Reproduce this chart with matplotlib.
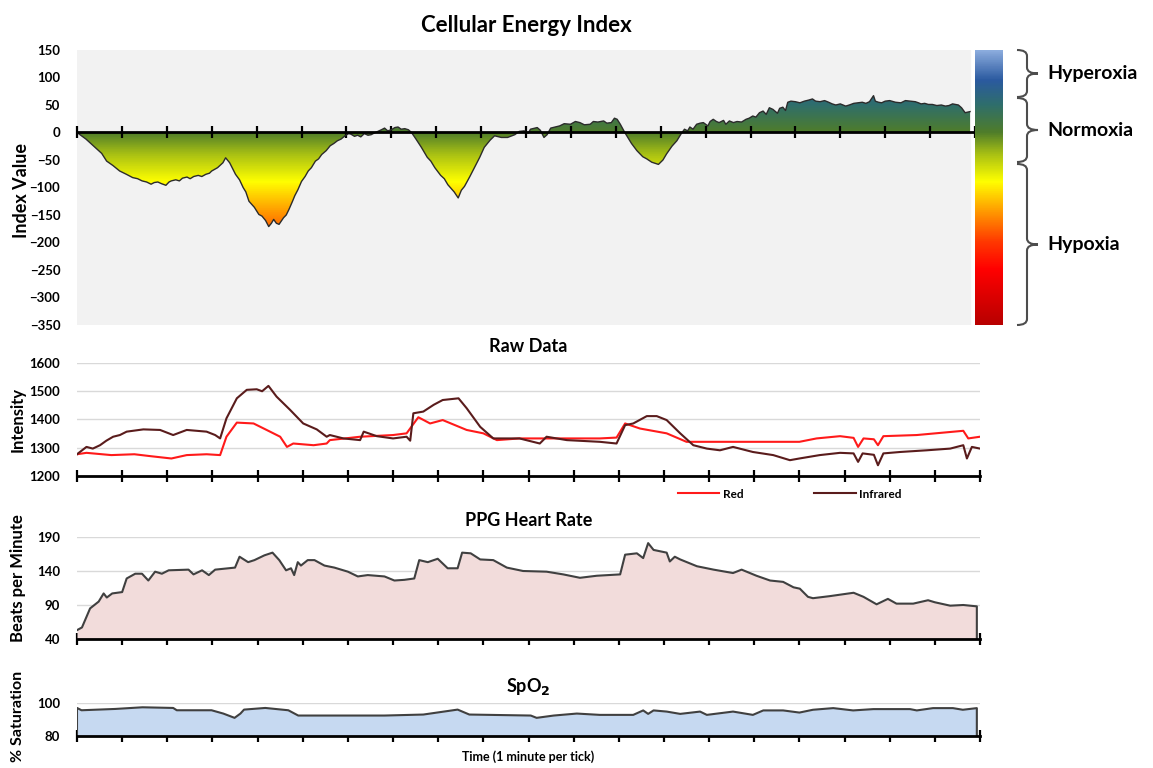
import numpy as np
import matplotlib
matplotlib.use("Agg")
import matplotlib.pyplot as plt
from matplotlib.colors import LinearSegmentedColormap, Normalize
from matplotlib.path import Path
from matplotlib.patches import PathPatch

plt.rcParams['font.family'] = ['Lato', 'DejaVu Sans']
plt.rcParams['font.weight'] = 'bold'

W, H = 1153, 768

# --- Cellular Energy Index (minutes, index value) ---
cei_t = [0.0, 0.2, 0.4, 0.55, 0.66, 0.8, 0.95, 1.1, 1.24, 1.35,
         1.45, 1.55, 1.65, 1.72, 1.8, 1.88, 1.98, 2.05, 2.1, 2.2,
         2.28, 2.35, 2.45, 2.52, 2.6, 2.7, 2.78, 2.87, 2.95, 3.0,
         3.13, 3.25, 3.31, 3.4, 3.53, 3.62, 3.7, 3.76, 3.83, 3.95,
         4.05, 4.12, 4.2, 4.27, 4.33, 4.38, 4.44, 4.5, 4.6, 4.66,
         4.72, 4.8, 4.85, 4.92, 5.0, 5.08, 5.15, 5.22, 5.31, 5.38,
         5.45, 5.55, 5.64, 5.72, 5.8, 5.88, 5.97, 6.05, 6.1, 6.18,
         6.25, 6.32, 6.4, 6.48, 6.55, 6.62, 6.7, 6.78, 6.85, 6.92,
         7.0, 7.08, 7.15, 7.22, 7.3, 7.38, 7.45, 7.55, 7.67, 7.8,
         7.88, 7.97, 8.1, 8.18, 8.26, 8.4, 8.49, 8.56, 8.63, 8.75,
         8.85, 8.97, 9.07, 9.2, 9.3, 9.45, 9.59, 9.75, 9.85, 9.96,
         10.05, 10.1, 10.25, 10.32, 10.4, 10.47, 10.55, 10.65, 10.75, 10.85,
         10.99, 11.1, 11.2, 11.3, 11.43, 11.5, 11.6, 11.73, 11.8, 11.9,
         11.97, 12.03, 12.1, 12.2, 12.35, 12.47, 12.6, 12.69, 12.8, 12.95,
         13.05, 13.13, 13.25, 13.36, 13.45, 13.53, 13.6, 13.65, 13.72, 13.8,
         13.88, 13.95, 14.05, 14.1, 14.17, 14.24, 14.3, 14.4, 14.45, 14.53,
         14.62, 14.7, 14.8, 14.9, 14.97, 15.05, 15.12, 15.2, 15.28, 15.35,
         15.42, 15.5, 15.6, 15.65, 15.72, 15.78, 15.83, 15.9, 16.0, 16.1,
         16.2, 16.3, 16.38, 16.45, 16.55, 16.65, 16.74, 16.82, 16.9, 17.0,
         17.12, 17.2, 17.3, 17.4, 17.49, 17.57, 17.65, 17.74, 17.78, 17.85,
         17.92, 18.0, 18.1, 18.23, 18.35, 18.45, 18.55, 18.67, 18.74, 18.8,
         18.88, 18.96, 19.05, 19.15, 19.25, 19.34, 19.42, 19.5, 19.56, 19.63,
         19.7, 19.78, 19.89]
cei_v = [0, -12, -27, -38, -52, -60, -70, -76, -82, -84,
         -88, -90, -94, -91, -90, -93, -96, -90, -88, -86,
         -88, -83, -81, -84, -80, -78, -80, -76, -74, -70,
         -64, -55, -46, -55, -76, -86, -100, -108, -125, -136,
         -149, -152, -160, -171, -165, -158, -165, -167, -155, -150,
         -140, -125, -115, -104, -89, -80, -70, -64, -52, -48,
         -40, -33, -24, -20, -15, -12, -6, -2, -3, -7,
         -5, -8, -2, -5, -4, -1, 2, 5, 8, 3,
         5, 9, 10, 6, 7, 5, 0, -12, -27, -45,
         -52, -64, -78, -84, -95, -108, -119, -105, -98, -80,
         -64, -45, -27, -14, -6, -9, -9, -4, 2, 3,
         -1, 6, 9, 4, -9, -4, 8, 10, 12, 16,
         15, 20, 18, 14, 15, 20, 19, 21, 17, 18,
         26, 24, 15, 0, -20, -33, -44, -48, -54, -58,
         -50, -39, -25, -15, -3, 6, 3, 10, 6, 15,
         17, 18, 12, 20, 24, 20, 18, 22, 15, 21,
         18, 20, 19, 24, 26, 30, 28, 36, 39, 33,
         45, 42, 35, 44, 46, 40, 55, 57, 56, 54,
         57, 59, 61, 57, 56, 58, 55, 52, 50, 52,
         48, 50, 53, 54, 55, 53, 56, 67, 57, 55,
         54, 57, 58, 55, 54, 58, 57, 56, 54, 52,
         53, 51, 51, 49, 50, 48, 49, 52, 51, 50,
         45, 36, 38]

zone_names = ['Hyperoxia', 'Normoxia', 'Hypoxia']

# --- Raw data ---
ir_t = [0, 0.21, 0.35, 0.51, 0.65, 0.8, 0.95, 1.1, 1.47, 1.84, 2.13, 2.43, 2.87, 3.06, 3.17, 3.31,
        3.54, 3.76, 3.98, 4.1, 4.24, 4.42, 4.72, 5.01, 5.31, 5.53, 5.6, 5.9, 6.27, 6.35, 6.64, 7.0,
        7.3, 7.38, 7.45, 7.67, 7.9, 8.1, 8.45, 8.63, 8.93, 9.22, 9.5, 9.8, 10.25, 10.4, 10.85,
        11.58, 11.95, 12.14, 12.32, 12.62, 12.84, 13.06, 13.36, 13.65, 13.95, 14.24, 14.53, 14.97,
        15.42, 15.79, 16.0, 16.45, 16.9, 17.2, 17.3, 17.4, 17.65, 17.74, 17.86, 18.23, 18.82,
        19.34, 19.63, 19.71, 19.82, 20]
ir_v = [1277, 1303, 1297, 1309, 1325, 1339, 1345, 1357, 1365, 1363, 1345, 1363, 1357, 1345, 1333, 1404,
        1475, 1505, 1507, 1500, 1519, 1481, 1434, 1386, 1365, 1339, 1345, 1333, 1327, 1357, 1341, 1333,
        1339, 1325, 1422, 1428, 1452, 1469, 1475, 1440, 1374, 1333, 1333, 1333, 1315, 1339, 1327,
        1321, 1315, 1380, 1386, 1412, 1412, 1398, 1351, 1309, 1297, 1291, 1303, 1285,
        1274, 1256, 1262, 1274, 1282, 1280, 1250, 1280, 1275, 1238, 1280, 1285, 1291,
        1297, 1309, 1262, 1303, 1297]

red_t = [0, 0.21, 0.76, 1.27, 1.64, 2.09, 2.43, 2.87, 3.17, 3.31, 3.54, 3.91, 4.2, 4.5, 4.65, 4.79,
         5.24, 5.53, 5.6, 6.27, 7.0, 7.3, 7.56, 7.82, 8.1, 8.63, 9.0, 9.3, 9.8, 10.5, 11.58, 11.95,
         12.14, 12.47, 13.06, 13.5, 14.17, 15.27, 16.0, 16.38, 16.9, 17.2, 17.3, 17.42, 17.65, 17.74,
         17.86, 18.6, 19.63, 19.74, 20]
red_v = [1277, 1282, 1274, 1277, 1270, 1262, 1274, 1277, 1274, 1339, 1389, 1386, 1363, 1339, 1303, 1315,
         1309, 1315, 1327, 1339, 1345, 1351, 1408, 1386, 1398, 1363, 1351, 1327, 1333, 1333, 1333, 1336,
         1386, 1368, 1351, 1321, 1321, 1321, 1321, 1333, 1341, 1335, 1303, 1333, 1330, 1309,
         1341, 1345, 1360, 1333, 1339]

# --- PPG heart rate ---
hr_t = [0, 0.11, 0.29, 0.48, 0.59, 0.66, 0.78, 1.0, 1.1, 1.29, 1.44, 1.58, 1.73, 1.88, 2.03, 2.47,
        2.58, 2.77, 2.92, 3.06, 3.5, 3.6, 3.79, 3.93, 4.15, 4.33, 4.48, 4.63, 4.74, 4.81, 4.89, 4.96,
        5.11, 5.26, 5.48, 5.7, 6.0, 6.22, 6.44, 6.81, 7.03, 7.25, 7.47, 7.58, 7.77, 7.99, 8.21, 8.43,
        8.53, 8.72, 8.93, 9.22, 9.52, 9.88, 10.4, 10.77, 11.14, 11.51, 12.03, 12.14, 12.4, 12.54,
        12.65, 12.77, 13.06, 13.13, 13.24, 13.36, 13.73, 14.1, 14.53, 14.72, 15.05, 15.35, 15.64,
        15.87, 16.01, 16.19, 16.3, 16.67, 17.2, 17.42, 17.71, 17.96, 18.15, 18.52, 18.85, 19.0,
        19.34, 19.63, 19.93]
hr_v = [53, 57, 85, 95, 107, 101, 107, 109, 129, 136, 136, 126, 139, 136, 141, 142,
        135, 141, 134, 142, 145, 161, 153, 156, 163, 167, 156, 141, 144, 134, 153, 148,
        156, 156, 148, 145, 139, 132, 134, 132, 126, 127, 129, 156, 153, 158, 144, 144,
        167, 166, 157, 156, 145, 140, 139, 135, 130, 133, 135, 164, 166, 159,
        181, 171, 167, 154, 161, 157, 147, 142, 137, 142, 133, 126, 124,
        116, 114, 102, 100, 103, 108, 102, 91, 99, 92, 92, 97, 94,
        89, 90, 88]

# --- SpO2 ---
spo2_t = [0, 0.1, 0.85, 1.45, 2.13, 2.21, 2.98, 3.24, 3.49, 3.62, 3.7, 4.17, 4.68, 4.9, 6.81, 7.67,
          8.43, 8.69, 10.05, 10.18, 10.56, 11.07, 11.58, 12.32, 12.54, 12.65, 12.77, 13.06, 13.36,
          13.8, 13.95, 14.53, 14.97, 15.2, 15.64, 16.0, 16.3, 16.75, 17.19, 17.64, 18.45, 18.6,
          18.96, 19.4, 19.62, 19.93]
spo2_v = [97, 95.6, 96.4, 97.4, 97, 95.6, 95.6, 93.6, 91, 93.6, 96, 97, 95.6, 92.4, 92.4, 93,
          96, 93, 92.4, 91, 92.4, 93.6, 92.8, 92.8, 95.5, 93.4, 95.5, 94.8, 93.4,
          94.8, 92.8, 94.8, 92.8, 95.5, 95.5, 94.2, 95.9, 96.9, 95.5, 96.3, 96.3, 95.5,
          96.9, 96.9, 95.9, 96.9]


def fx(px):
    return px / W


def fy(py):
    return 1 - py / H


def box(x0, y0, x1, y1):
    return [fx(x0), fy(y1), (x1 - x0) / W, (y1 - y0) / H]


def style_time_axis(ax):
    for s in ['top', 'right', 'left']:
        ax.spines[s].set_visible(False)
    ax.spines['bottom'].set_linewidth(2)
    ax.spines['bottom'].set_color('black')
    ax.set_xticks(np.arange(0, 21, 1))
    ax.tick_params(axis='x', direction='inout', length=9, width=1.6, labelbottom=False)
    ax.tick_params(axis='y', length=0, pad=12, labelsize=9.5)
    ax.set_facecolor('none')


fig = plt.figure(figsize=(W / 100, H / 100), dpi=100)

cmap = LinearSegmentedColormap.from_list('cei', [
    (0.00, '#b80000'), (0.20, '#ff0000'), (0.30, '#ff3800'), (0.40, '#ff9000'),
    (0.52, '#ffff00'), (0.62, '#a8c014'), (0.70, '#4f7d2a'), (0.80, '#2f6e6c'),
    (0.89, '#2b5aa0'), (1.00, '#8eaedf')])
norm = Normalize(-350, 150)

# Cellular Energy Index panel
ax1 = fig.add_axes(box(77, 50, 975, 325))
t_end = cei_t[-1]
ax1.add_patch(plt.Rectangle((0, -350), t_end, 500, color='#f2f2f2', zorder=0))
poly = ax1.fill_between(cei_t, cei_v, 0, color='none')
grad = np.linspace(-350, 150, 400).reshape(-1, 1)
im = ax1.imshow(grad, extent=[0, t_end, -350, 150], origin='lower', aspect='auto',
                cmap=cmap, norm=norm, zorder=1)
im.set_clip_path(poly.get_paths()[0], transform=ax1.transData)
ax1.plot(cei_t, cei_v, color='#2b2b2b', lw=1, zorder=3)
ax1.set_xlim(0, t_end)
ax1.set_ylim(-350, 150)
ax1.set_yticks(np.arange(-350, 151, 50))
style_time_axis(ax1)
ax1.spines['bottom'].set_position(('data', 0))
ax1.spines['bottom'].set_zorder(4)
ax1.set_title('Cellular Energy Index', fontsize=16, fontweight='bold', pad=13)

# colour scale
axc = fig.add_axes(box(975, 50, 1003, 325))
axc.imshow(grad, extent=[0, 1, -350, 150], origin='lower', aspect='auto', cmap=cmap, norm=norm)
axc.set_axis_off()

# braces for the zones
zone_px = [(50, 97), (98, 162), (164, 325)]


def brace(y0, y1, xl=1017, xm=1027, xr=1038, r=6):
    ym = (y0 + y1) / 2
    pts = [(xl, y0), (xm, y0), (xm, y0 + r), (xm, ym - r), (xm, ym), (xr, ym),
           (xr, ym), (xm, ym), (xm, ym + r), (xm, y1 - r), (xm, y1), (xl, y1)]
    codes = [Path.MOVETO, Path.CURVE3, Path.CURVE3, Path.LINETO, Path.CURVE3, Path.CURVE3,
             Path.MOVETO, Path.CURVE3, Path.CURVE3, Path.LINETO, Path.CURVE3, Path.CURVE3]
    path = Path([(fx(a), fy(b)) for a, b in pts], codes)
    fig.patches.append(PathPatch(path, fc='none', ec='#4d4d4d', lw=1.5,
                                 transform=fig.transFigure, figure=fig))
    return ym


for name, (y0, y1) in zip(zone_names, zone_px):
    ym = brace(y0, y1)
    fig.text(fx(1047), fy(ym), name, fontsize=14, fontweight='bold', va='center', ha='left')

# Raw data panel
ax2 = fig.add_axes(box(77, 363, 980, 476))
ax2.plot(red_t, red_v, color='#ff1a1a', lw=1.5, label='Red')
ax2.plot(ir_t, ir_v, color='#5a1c1c', lw=1.5, label='Infrared')
ax2.set_xlim(0, 20)
ax2.set_ylim(1200, 1600)
ax2.set_yticks(np.arange(1200, 1601, 100))
ax2.grid(axis='y', color='#d9d9d9', lw=1)
ax2.set_axisbelow(True)
style_time_axis(ax2)
ax2.set_title('Raw Data', fontsize=13, fontweight='bold', pad=8)
fig.legend(handles=ax2.get_lines(), loc='center', bbox_to_anchor=(fx(790), fy(494)), ncol=2,
           frameon=False, fontsize=8.5, handlelength=3.5, columnspacing=6, handletextpad=0.3)

# Heart rate panel
ax3 = fig.add_axes(box(77, 537, 980, 639))
ax3.fill_between(hr_t, hr_v, 40, color='#f2dcdb', lw=0)
ax3.plot(hr_t + [hr_t[-1]], hr_v + [40], color='#404040', lw=1.5)
ax3.set_xlim(0, 20)
ax3.set_ylim(40, 190)
ax3.set_yticks([40, 90, 140, 190])
ax3.grid(axis='y', color='#d9d9d9', lw=1)
ax3.set_axisbelow(True)
style_time_axis(ax3)
ax3.set_title('PPG Heart Rate', fontsize=13, fontweight='bold', pad=8)

# SpO2 panel
ax4 = fig.add_axes(box(77, 703, 980, 736))
ax4.fill_between(spo2_t, spo2_v, 80, color='#c6d9f1', lw=0)
ax4.plot([0] + spo2_t + [spo2_t[-1]], [80] + spo2_v + [80], color='#404040', lw=1.5)
ax4.set_xlim(0, 20)
ax4.set_ylim(80, 100)
ax4.set_yticks([80, 100])
ax4.grid(axis='y', color='#d9d9d9', lw=1)
ax4.set_axisbelow(True)
style_time_axis(ax4)
ax4.set_title(r'SpO$_{\mathbf{2}}$', fontsize=13, fontweight='bold', pad=8)
ax4.set_xlabel('Time (1 minute per tick)', fontsize=9, fontweight='bold', labelpad=6)

# y axis labels
fig.text(fx(22), fy(190), 'Index Value', rotation=90, fontsize=13, fontweight='bold', ha='center', va='center')
fig.text(fx(18), fy(420), 'Intensity', rotation=90, fontsize=12, fontweight='bold', ha='center', va='center')
fig.text(fx(18), fy(578), 'Beats per Minute', rotation=90, fontsize=12, fontweight='bold', ha='center', va='center')
fig.text(fx(18), fy(716), '% Saturation', rotation=90, fontsize=11.5, fontweight='bold', ha='center', va='center')

fig.savefig('out.png', dpi=100)
